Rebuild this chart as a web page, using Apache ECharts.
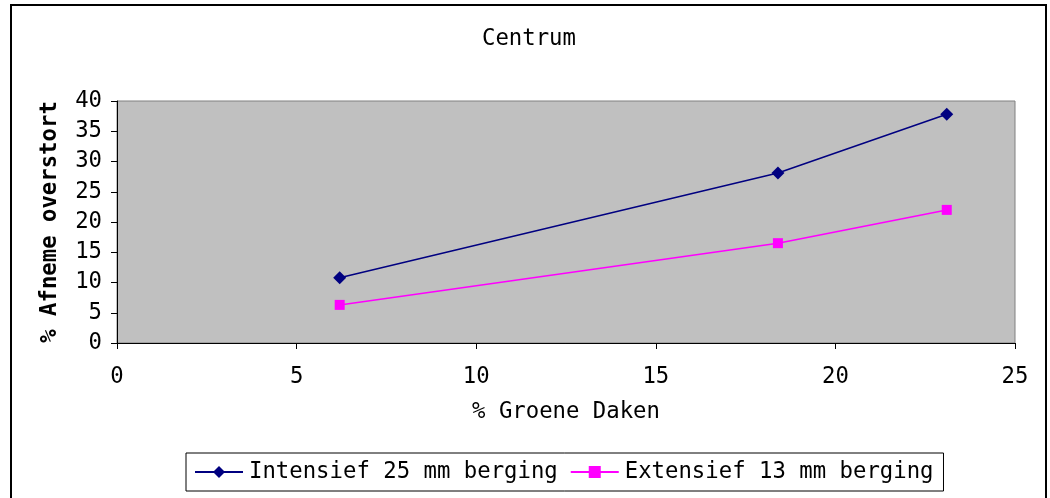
<!DOCTYPE html>
<html>
<head>
<meta charset="utf-8">
<script src="https://cdn.jsdelivr.net/npm/echarts@6/dist/echarts.min.js"></script>
<style>
html,body{margin:0;padding:0;background:#fff;}
#c{width:1050px;height:498px;}
</style>
</head>
<body>
<div id="c"></div>
<script>
const groeneDaken = [6.2, 18.4, 23.1];
const intensief = [10.8, 28.1, 37.8];
const extensief = [6.3, 16.5, 22.0];
const seriesNames = ['Intensief 25 mm berging', 'Extensief 13 mm berging'];
const FONT = '"DejaVu Sans Mono", monospace';

const chart = echarts.init(document.getElementById('c'), null, {renderer: 'canvas'});
chart.setOption({
  animation: false,
  backgroundColor: '#fff',
  textStyle: {fontFamily: FONT, color: '#000'},
  title: {
    text: 'Centrum', left: 477, top: 23,
    textStyle: {fontFamily: FONT, fontSize: 22.3, fontWeight: 'normal', color: '#000'}
  },
  graphic: [{
    type: 'rect', z: 100, silent: true,
    shape: {x: 11, y: 5, width: 1035, height: 540},
    style: {fill: 'none', stroke: '#000', lineWidth: 2}
  }],
  legend: {
    left: 186, top: 453,
    padding: [8, 10, 8, 8],
    itemGap: 12, itemWidth: 48, itemHeight: 15,
    borderColor: '#000', borderWidth: 1, backgroundColor: '#fff',
    textStyle: {fontFamily: FONT, fontSize: 22.3, color: '#000', padding: [0, 0, 0, 1]},
    data: seriesNames
  },
  grid: {
    left: 117, right: 35, top: 101, bottom: 155,
    show: true, backgroundColor: '#C0C0C0', borderColor: '#808080', borderWidth: 1
  },
  xAxis: {
    type: 'value', min: 0, max: 25, interval: 5,
    name: '% Groene Daken', nameLocation: 'middle', nameGap: 58,
    nameTextStyle: {fontFamily: FONT, fontSize: 22.3, color: '#000'},
    axisLine: {show: true, lineStyle: {color: '#000', width: 1}},
    axisTick: {show: true, length: 6, lineStyle: {color: '#000'}},
    axisLabel: {fontFamily: FONT, fontSize: 22.3, color: '#000', margin: 23},
    splitLine: {show: false}
  },
  yAxis: {
    type: 'value', min: 0, max: 40, interval: 5,
    name: '% Afneme overstort', nameLocation: 'middle', nameGap: 56, nameRotate: 90,
    nameTextStyle: {fontFamily: FONT, fontSize: 22.3, fontWeight: 'bold', color: '#000'},
    axisLine: {show: true, lineStyle: {color: '#000', width: 1}},
    axisTick: {show: true, length: 6, lineStyle: {color: '#000'}},
    axisLabel: {fontFamily: FONT, fontSize: 22.3, color: '#000', margin: 15},
    splitLine: {show: false}
  },
  series: [
    {
      name: seriesNames[0], type: 'line',
      data: groeneDaken.map((x, i) => [x, intensief[i]]),
      symbol: 'diamond', symbolSize: 13,
      lineStyle: {color: '#000080', width: 1.5},
      itemStyle: {color: '#000080'}
    },
    {
      name: seriesNames[1], type: 'line',
      data: groeneDaken.map((x, i) => [x, extensief[i]]),
      symbol: 'rect', symbolSize: 10,
      lineStyle: {color: '#FF00FF', width: 1.5},
      itemStyle: {color: '#FF00FF'}
    }
  ]
});
</script>
</body>
</html>
